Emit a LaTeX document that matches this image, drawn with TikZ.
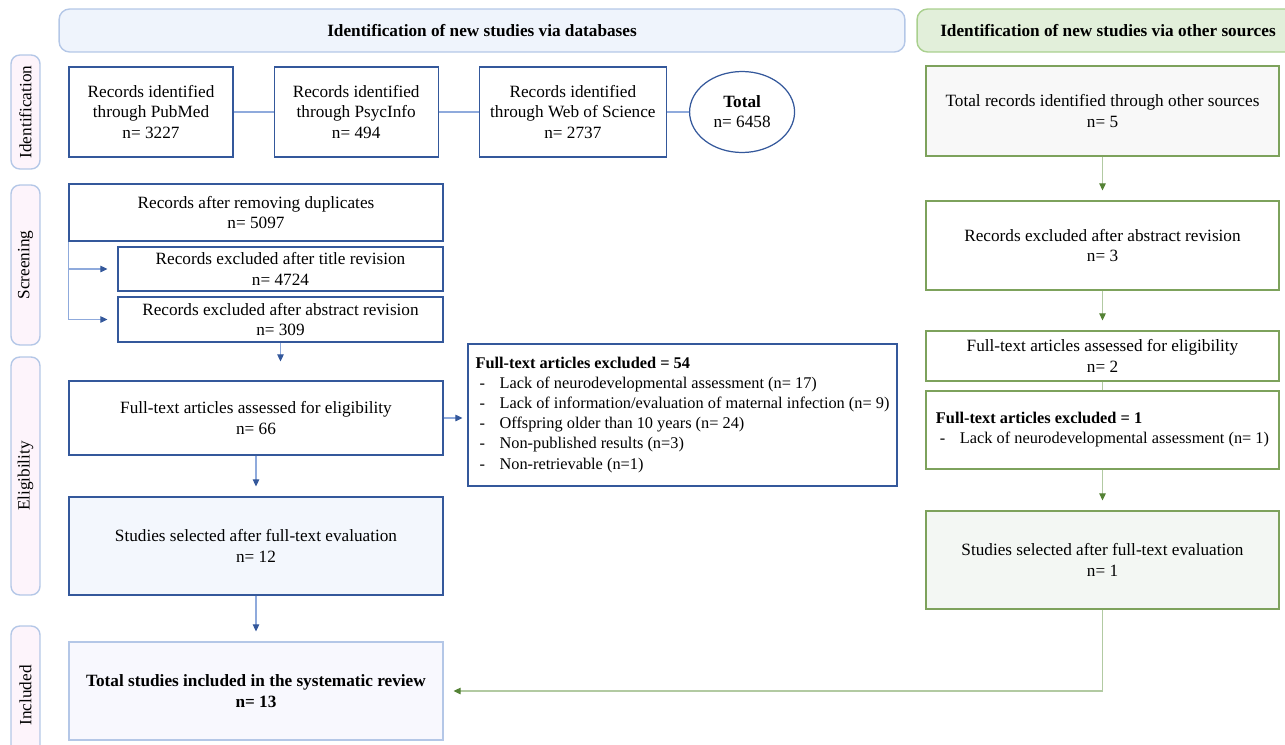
\documentclass[tikz,border=0pt]{standalone}
\usepackage{fontspec}
\setmainfont{Liberation Serif}
\usetikzlibrary{shapes.geometric, arrows.meta, positioning, calc}

\definecolor{boxblue}{RGB}{52,88,155}
\definecolor{lineblue}{RGB}{143,170,220}
\definecolor{paleblue}{RGB}{180,199,231}
\definecolor{hdrblue}{RGB}{239,244,252}
\definecolor{hdrgreen}{RGB}{226,239,218}
\definecolor{hdrgreenline}{RGB}{169,208,142}
\definecolor{boxgreen}{RGB}{125,162,92}
\definecolor{linegreen}{RGB}{178,202,162}
\definecolor{tipgreen}{RGB}{84,130,53}
\definecolor{labelfill}{RGB}{253,244,251}
\definecolor{selfill}{RGB}{243,247,253}
\definecolor{inclfill}{RGB}{248,248,254}
\definecolor{greyfill}{RGB}{248,248,248}
\definecolor{selgreenfill}{RGB}{243,247,243}

\newcommand{\dashitem}{\hspace*{0.08cm}\makebox[0.4cm][l]{-}}

\begin{document}
\begin{tikzpicture}[x=0.02cm, y=-0.02cm,
  every node/.style={font=\fontsize{9.8}{11.5}\selectfont, align=center, inner sep=0pt},
  dbbox/.style={rectangle, draw=boxblue, line width=0.7pt, fill=white},
  osbox/.style={rectangle, draw=boxgreen, line width=0.7pt, fill=white},
  listbox/.style={align=left, font=\fontsize{9.3}{11.4}\selectfont},
  header/.style={rectangle, rounded corners=6pt, line width=0.8pt,
                 minimum height=0.86cm, font=\fontsize{9.8}{11.5}\selectfont\bfseries},
  phase/.style={rectangle, rounded corners=5pt, draw=paleblue, fill=labelfill,
                line width=0.8pt, rotate=90, minimum height=0.58cm},
  link/.style={draw=lineblue, line width=0.6pt},
  arr/.style={-{Triangle[length=1.4mm, width=1.3mm, color=boxblue]}, draw=lineblue,
              line width=0.6pt, shorten >=0.2cm},
  garr/.style={-{Triangle[length=1.4mm, width=1.3mm, color=tipgreen]}, draw=linegreen,
               line width=0.6pt, shorten >=0.2cm}
]
  \useasboundingbox (0,0) rectangle (1285,744);

  % section headers
  \node[header, draw=paleblue, fill=hdrblue, minimum width=16.92cm] (hdrdb) at (482,30.5)
       {Identification of new studies via databases};
  \node[header, draw=hdrgreenline, fill=hdrgreen, minimum width=7.64cm] (hdros) at (1108,30.5)
       {Identification of new studies via other sources};

  % phase labels
  \node[phase, minimum width=2.28cm] (phid)  at (25.5,112)   {Identification};
  \node[phase, minimum width=3.2cm]  (phscr) at (25.5,265)   {Screening};
  \node[phase, minimum width=4.76cm] (phel)  at (25.5,476)   {Eligibility};
  \node[phase, minimum width=2.78cm] (phinc) at (25.5,695.5) {Included};

  % databases
  \node[dbbox, minimum width=3.28cm, minimum height=1.8cm] (pubmed) at (151,112)
       {Records identified\\through PubMed\\n= 3227};
  \node[dbbox, minimum width=3.28cm, minimum height=1.8cm, right=0.8cm of pubmed] (psycinfo)
       {Records identified\\through PsycInfo\\n= 494};
  \node[dbbox, minimum width=3.74cm, minimum height=1.8cm, right=0.8cm of psycinfo] (wos)
       {Records identified\\through Web of Science\\n= 2737};
  \node[ellipse, draw=boxblue, line width=0.7pt, minimum width=2.1cm, minimum height=1.62cm,
        right=0.44cm of wos] (total) {\textbf{Total}\\n= 6458};

  \node[dbbox, minimum width=7.48cm, minimum height=1.14cm] (dup) at (256,212.5)
       {Records after removing duplicates\\n= 5097};
  \node[dbbox, minimum width=6.5cm, minimum height=0.88cm] (title) at (280.5,269)
       {Records excluded after title revision\\n= 4724};
  \node[dbbox, minimum width=6.5cm, minimum height=0.9cm] (abstract) at (280.5,319.5)
       {Records excluded after abstract revision\\n= 309};
  \node[dbbox, minimum width=7.48cm, minimum height=1.48cm] (assess) at (256,418)
       {Full-text articles assessed for eligibility\\n= 66};
  \node[dbbox, listbox, minimum width=8.58cm, minimum height=2.84cm] (excl) at (682.5,415)
       {\textbf{Full-text articles excluded = 54}\\
        \dashitem Lack of neurodevelopmental assessment (n= 17)\\
        \dashitem Lack of information/evaluation of maternal infection (n= 9)\\
        \dashitem Offspring older than 10 years (n= 24)\\
        \dashitem Non-published results (n=3)\\
        \dashitem Non-retrievable (n=1)};
  \node[dbbox, fill=selfill, minimum width=7.48cm, minimum height=1.96cm] (selected) at (256,546)
       {Studies selected after full-text evaluation\\n= 12};
  \node[dbbox, draw=paleblue, fill=inclfill, minimum width=7.48cm, minimum height=1.96cm] (included) at (256,691)
       {\textbf{Total studies included in the systematic review}\\\textbf{n= 13}};

  % other sources
  \node[osbox, fill=greyfill, minimum width=7.06cm, minimum height=1.8cm] (othertot) at (1102.5,111)
       {Total records identified through other sources\\n= 5};
  \node[osbox, minimum width=7.06cm, minimum height=1.78cm] (otherabs) at (1102.5,245.5)
       {Records excluded after abstract revision\\n= 3};
  \node[osbox, minimum width=7.06cm, minimum height=1.0cm] (otherft) at (1102.5,356)
       {Full-text articles assessed for eligibility\\n= 2};
  \node[osbox, listbox, minimum width=7.06cm, minimum height=1.56cm] (otherexcl) at (1102.5,430)
       {\textbf{Full-text articles excluded = 1}\\
        \dashitem Lack of neurodevelopmental assessment (n= 1)};
  \node[osbox, fill=selgreenfill, minimum width=7.06cm, minimum height=1.96cm] (othersel) at (1102.5,560)
       {Studies selected after full-text evaluation\\n= 1};

  \draw[link] (pubmed)   -- (psycinfo);
  \draw[link] (psycinfo) -- (wos);
  \draw[link] (wos)      -- (total);
  \draw[arr] (dup.south west) |- (title.west);
  \draw[arr] (dup.south west) |- (abstract.west);
  \draw[arr, shorten >=0.38cm] (abstract.south) -- (abstract.south |- assess.north);
  \draw[arr, shorten >=0.1cm] (assess.east) -- (assess.east -| excl.west);
  \draw[arr] (assess.south)   -- (selected.north);
  \draw[arr] (selected.south) -- (included.north);

  \draw[garr] (othertot.south) -- (otherabs.north);
  \draw[garr] (otherabs.south) -- (otherft.north);
  \draw[draw=linegreen, line width=0.6pt] (otherft.south) -- (otherexcl.north);
  \draw[garr] (otherexcl.south) -- (othersel.north);
  % back to the included box
  \draw[garr] (othersel.south) |- (included.east);
\end{tikzpicture}
\end{document}
